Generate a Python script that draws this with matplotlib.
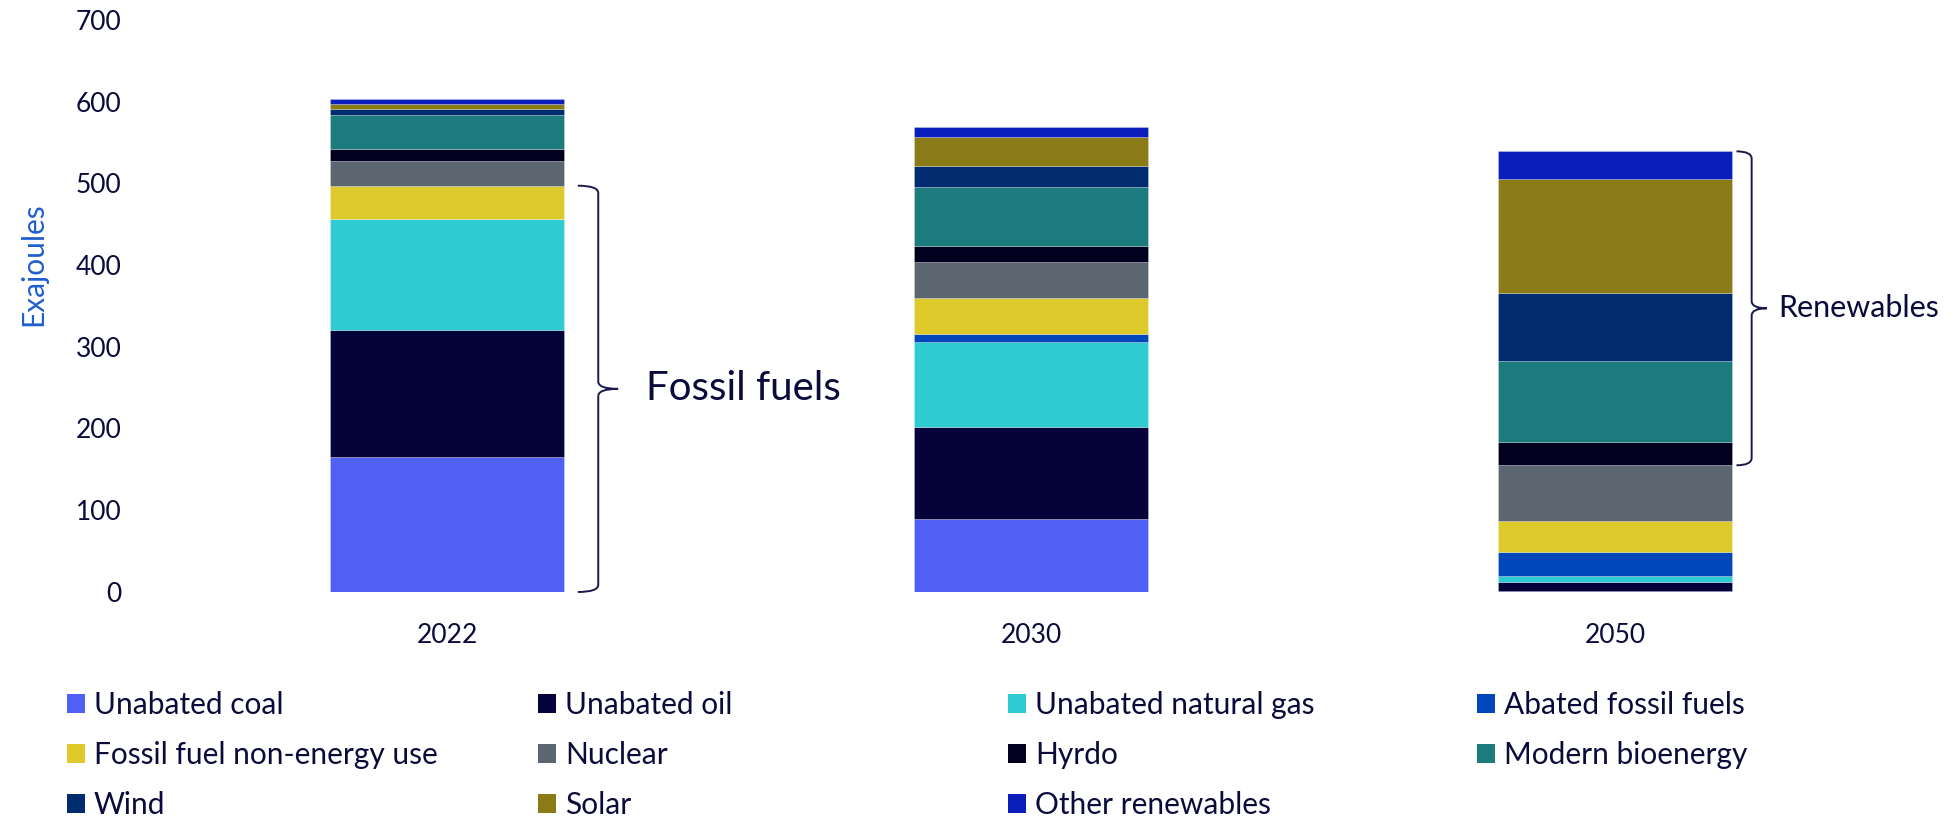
import matplotlib
matplotlib.use("Agg")
import matplotlib.pyplot as plt
import numpy as np
from matplotlib.patches import Patch, PathPatch
from matplotlib.path import Path

plt.rcParams['font.family'] = ['Lato', 'DejaVu Sans']

# Global energy supply by source (exajoules)
years = ["2022", "2030", "2050"]
sources = ["Unabated coal", "Unabated oil", "Unabated natural gas", "Abated fossil fuels",
           "Fossil fuel non-energy use", "Nuclear", "Hyrdo", "Modern bioenergy",
           "Wind", "Solar", "Other renewables"]
unabated_coal = [165, 89, 1]
unabated_oil = [155, 113, 11]
unabated_gas = [136, 104, 8]
abated_fossil = [0, 9, 29]
non_energy_use = [41, 45, 38]
nuclear = [30, 44, 68]
hydro = [15, 19, 29]
modern_bioenergy = [41, 73, 99]
wind = [8, 25, 83]
solar = [6, 36, 139]
other_renewables = [6, 12, 34]

series = [unabated_coal, unabated_oil, unabated_gas, abated_fossil, non_energy_use,
          nuclear, hydro, modern_bioenergy, wind, solar, other_renewables]
colors = ["#5060F5", "#05033A", "#2ECBD2", "#0047BB", "#DEC92A", "#5B6670",
          "#01011F", "#1C7B7D", "#002B6E", "#8A7B17", "#0B1EBC"]

text_color = "#0B0B3B"

fig = plt.figure(figsize=(19.6, 8.17), dpi=100)
W, H = 1960, 817
ax = fig.add_axes([155 / W, 1 - 592 / H, (1907 - 155) / W, (592 - 19.75) / H])

x = np.arange(len(years))
bottom = np.zeros(len(years))
for vals, col in zip(series, colors):
    vals = np.array(vals, dtype=float)
    ax.bar(x, vals, 0.4, bottom=bottom, color=col, edgecolor=(1, 1, 1, 0.35), linewidth=0.5)
    bottom += vals

ax.set_xlim(-0.5, 2.5)
ax.set_ylim(0, 700)
ax.set_yticks(range(0, 701, 100))
ax.set_xticks(x)
ax.set_xticklabels(years)
for s in ax.spines.values():
    s.set_visible(False)
ax.tick_params(axis='both', length=0, labelsize=19, labelcolor=text_color)
ax.tick_params(axis='y', pad=24)
ax.tick_params(axis='x', pad=22)

fig.text(33 / W, 1 - 264 / H, "Exajoules", rotation=90, ha='center', va='center',
         fontsize=21.5, color="#1F5FCC")


def brace(ax, x_tip, x_line, x_mid, y0, y1, r):
    ym = (y0 + y1) / 2
    verts = [(x_tip, y1), (x_line, y1), (x_line, y1 - r),
             (x_line, ym + r), (x_line, ym), (x_mid, ym),
             (x_line, ym), (x_line, ym - r),
             (x_line, y0 + r), (x_line, y0), (x_tip, y0)]
    codes = [Path.MOVETO, Path.CURVE3, Path.CURVE3,
             Path.LINETO, Path.CURVE3, Path.CURVE3,
             Path.CURVE3, Path.CURVE3,
             Path.LINETO, Path.CURVE3, Path.CURVE3]
    ax.add_patch(PathPatch(Path(verts, codes), fill=False, edgecolor="#1A1A4A",
                           linewidth=1.4, clip_on=False))


# Fossil fuels: 0 to top of non-energy use in 2022
fossil_top = sum(s[0] for s in series[:5])
brace(ax, 0.224, 0.259, 0.293, 0, fossil_top, 9)
ax.text(0.34, fossil_top / 2, "Fossil fuels", fontsize=29, color=text_color,
        ha='left', va='center')

# Renewables: hydro through other renewables in 2050
ren_bottom = sum(s[2] for s in series[:6])
ren_top = sum(s[2] for s in series)
brace(ax, 2.208, 2.234, 2.26, ren_bottom, ren_top, 9)
ax.text(2.28, (ren_bottom + ren_top) / 2, "Renewables", fontsize=22, color=text_color,
        ha='left', va='center')

# Legend laid out in four equally spaced columns, three rows
fs = 21.5
col_x = [67, 538, 1008, 1477]
for c in range(4):
    idx = [i for i in range(c, len(sources), 4)]
    handles = [Patch(facecolor=colors[i], edgecolor='none') for i in idx]
    labels = [sources[i] for i in idx]
    fig.legend(handles, labels, loc='upper left',
               bbox_to_anchor=(col_x[c] / W, 1 - 691 / H),
               frameon=False, fontsize=fs, borderpad=0, borderaxespad=0,
               handlelength=0.6, handleheight=0.6, handletextpad=0.3,
               labelspacing=0.74, labelcolor=text_color)

fig.savefig("out.png", dpi=100)
